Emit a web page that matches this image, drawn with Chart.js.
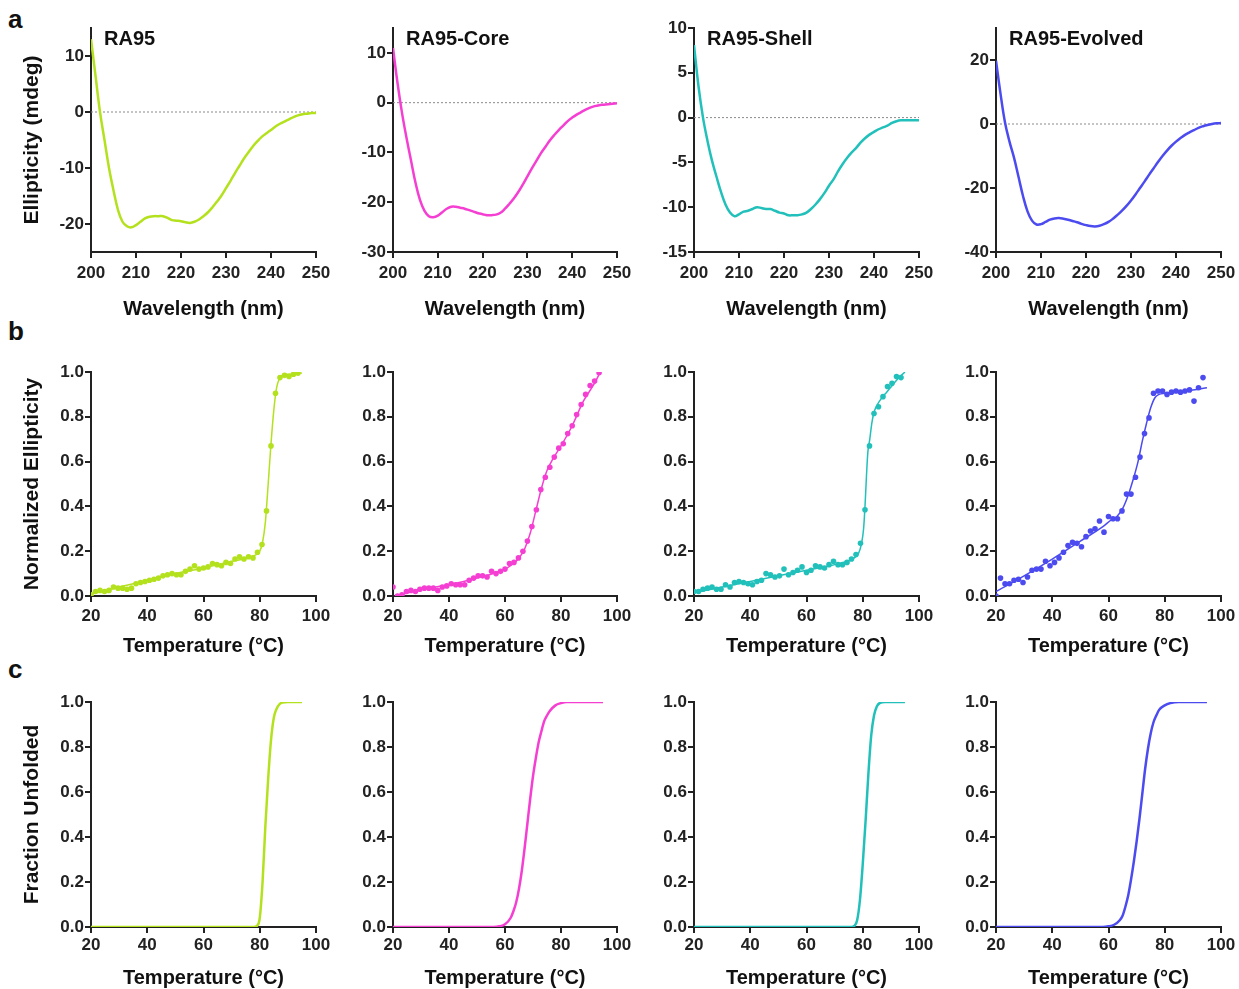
<!DOCTYPE html>
<html>
<head>
<meta charset="utf-8">
<title>RA95 CD and melting curves</title>
<script src="https://cdn.jsdelivr.net/npm/chart.js"></script>
<style>
  html, body { margin: 0; padding: 0; background: #fff; overflow: hidden; width: 1239px; height: 989px; }
  canvas { position: absolute; }
  .lbl { position: absolute; font: bold 26px "Liberation Sans", Arial, sans-serif; line-height: 26px; color: #111; }
</style>
</head>
<body>
<div class="lbl" style="left:8px;top:6px">a</div>
<div class="lbl" style="left:8px;top:318px">b</div>
<div class="lbl" style="left:8px;top:656px">c</div>
<script>
// ---- data ----
const names = ["RA95", "RA95-Core", "RA95-Shell", "RA95-Evolved"];
const colors = ["#b4e11e", "#f53fd2", "#22c0ba", "#4b4bf0"];

// row a: CD spectra (mdeg), one value per nm
const wavelengths = [200,201,202,203,204,205,206,207,208,209,210,211,212,213,214,215,216,217,218,219,220,
  221,222,223,224,225,226,227,228,229,230,231,232,233,234,235,236,237,238,239,240,
  241,242,243,244,245,246,247,248,249,250];
const cdRA95 = [13,6.5,0,-5,-10,-14,-17.5,-19.6,-20.4,-20.6,-20.2,-19.6,-19.0,-18.7,-18.6,-18.6,-18.6,-18.9,-19.3,-19.4,-19.5,
  -19.7,-19.8,-19.6,-19.2,-18.6,-17.9,-17.0,-16.0,-14.9,-13.6,-12.3,-10.9,-9.6,-8.3,-7.2,-6.1,-5.2,-4.4,-3.8,-3.2,
  -2.6,-2.1,-1.7,-1.3,-0.9,-0.6,-0.4,-0.3,-0.2,-0.2];
const cdCore = [11,4,-2,-7,-11.5,-16,-19.5,-21.7,-22.8,-23.0,-22.7,-22.0,-21.3,-20.9,-20.9,-21.1,-21.3,-21.6,-21.9,-22.2,-22.4,
  -22.6,-22.6,-22.5,-22.1,-21.3,-20.3,-19.2,-17.9,-16.4,-14.8,-13.2,-11.7,-10.2,-8.9,-7.6,-6.5,-5.5,-4.6,-3.7,-3.0,
  -2.4,-1.9,-1.4,-1.0,-0.7,-0.5,-0.4,-0.3,-0.2,-0.1];
const cdShell = [8.1,3.5,0,-2.6,-4.8,-6.6,-8.3,-9.7,-10.6,-11.0,-10.8,-10.5,-10.4,-10.2,-10.0,-10.1,-10.2,-10.2,-10.4,-10.6,-10.7,
  -10.9,-10.9,-10.9,-10.8,-10.6,-10.2,-9.7,-9.1,-8.4,-7.6,-6.9,-6.0,-5.2,-4.5,-3.9,-3.4,-2.8,-2.3,-1.9,-1.6,
  -1.3,-1.1,-0.9,-0.6,-0.4,-0.3,-0.3,-0.3,-0.3,-0.3];
const cdEvolved = [19.8,9.5,0.5,-5.5,-10.5,-16.5,-22.5,-27.3,-30.2,-31.4,-31.3,-30.6,-29.9,-29.5,-29.4,-29.6,-29.9,-30.3,-30.7,-31.2,-31.6,
  -31.9,-32.0,-31.8,-31.3,-30.6,-29.6,-28.4,-27.1,-25.6,-23.9,-22.0,-20.0,-18.0,-15.9,-13.9,-11.9,-10.0,-8.3,-6.8,-5.5,
  -4.4,-3.4,-2.6,-1.9,-1.2,-0.7,-0.3,0.0,0.2,0.3];

// row b: thermal melts (normalized ellipticity)
const tempsB = [20,21.6,23.2,24.8,26.4,28,29.6,31.2,32.8,34.4,36,37.6,39.2,40.8,42.4,44,45.6,47.2,48.8,50.4,
  52,53.6,55.2,56.8,58.4,60,61.6,63.2,64.8,66.4,68,69.6,71.2,72.8,74.4,76,77.6,79.2,80.8,82.4,
  84,85.6,87.2,88.8,90.4,92,93.6];
const meltRA95 = [0.005,0.02,0.025,0.02,0.025,0.04,0.035,0.035,0.03,0.035,0.055,0.06,0.065,0.07,0.075,0.08,0.09,0.095,0.1,0.095,
  0.095,0.11,0.12,0.135,0.12,0.125,0.13,0.145,0.14,0.135,0.15,0.145,0.165,0.175,0.165,0.175,0.17,0.195,0.23,0.38,
  0.67,0.905,0.975,0.985,0.98,0.99,0.995];
const meltCore = [0.04,0.0,0.005,0.02,0.025,0.02,0.03,0.035,0.035,0.035,0.025,0.04,0.045,0.055,0.05,0.05,0.05,0.07,0.08,0.09,
  0.09,0.085,0.11,0.1,0.11,0.12,0.145,0.15,0.17,0.2,0.245,0.31,0.385,0.475,0.53,0.575,0.62,0.66,0.68,0.725,
  0.76,0.81,0.855,0.9,0.94,0.96,0.997];
const meltShell = [0.02,0.02,0.03,0.035,0.04,0.03,0.03,0.05,0.04,0.06,0.065,0.06,0.055,0.05,0.065,0.07,0.1,0.095,0.085,0.09,
  0.12,0.095,0.105,0.115,0.13,0.105,0.115,0.135,0.13,0.125,0.14,0.155,0.14,0.14,0.15,0.165,0.185,0.235,0.385,0.67,
  0.815,0.845,0.89,0.935,0.95,0.98,0.975];
const meltEvolved = [0.0,0.08,0.055,0.055,0.07,0.075,0.06,0.085,0.115,0.12,0.12,0.155,0.135,0.15,0.17,0.195,0.225,0.24,0.235,0.22,
  0.265,0.29,0.3,0.335,0.285,0.355,0.345,0.345,0.38,0.455,0.455,0.53,0.62,0.725,0.795,0.905,0.915,0.915,0.9,0.91,
  0.915,0.91,0.915,0.92,0.87,0.93,0.975];

// row b: fitted curves
const fitTempsRA95 = [20,30,40,50,60,70,78,80,81,82,83,84,85,86,87,88,90,95];
const fitRA95 = [0.01,0.04,0.07,0.1,0.125,0.155,0.18,0.2,0.24,0.33,0.5,0.68,0.83,0.93,0.97,0.985,0.99,0.995];
const fitTempsCore = [21,30,40,50,60,63,65,67,69,71,73,75,77,80,84,88,92,94];
const fitCore = [0.0,0.03,0.05,0.08,0.12,0.145,0.17,0.21,0.28,0.38,0.48,0.56,0.61,0.67,0.76,0.87,0.95,1.0];
const fitTempsShell = [20,30,40,50,60,70,77,78.5,79.5,80.3,80.8,81.3,81.8,82.5,83.2,84,85,86.5,88.5,90.5,92.5,95];
const fitShell = [0.015,0.04,0.065,0.09,0.115,0.14,0.17,0.19,0.23,0.3,0.4,0.53,0.64,0.7,0.77,0.82,0.85,0.88,0.91,0.94,0.97,1.0];
const fitTempsEvolved = [20,30,40,50,58,61,63,65,67,69,70.5,72,73.5,75,76.5,78,80,85,90,95];
const fitEvolved = [0.02,0.09,0.165,0.245,0.31,0.34,0.355,0.39,0.45,0.53,0.6,0.69,0.77,0.84,0.885,0.9,0.905,0.913,0.92,0.93];

// row c: fraction unfolded
const fracTempsRA95 = [20,78,79,80,81,82,83,84,85,86,87,88,90,95];
const fracRA95 = [0,0,0.005,0.04,0.2,0.45,0.66,0.83,0.93,0.97,0.99,0.998,1,1];
const fracTempsCore = [20,56,58,60,62,63,64,65,66,67,68,69,70,71,72,73,74,75,76,78,80,82,95];
const fracCore = [0,0,0.003,0.012,0.04,0.07,0.11,0.17,0.25,0.35,0.46,0.57,0.67,0.75,0.82,0.87,0.915,0.94,0.96,0.985,0.995,1,1];
const fracTempsShell = [20,76,77,78,79,80,81,82,83,84,85,86,88,95];
const fracShell = [0,0,0.005,0.03,0.12,0.28,0.47,0.68,0.85,0.94,0.98,0.995,1,1];
const fracTempsEvolved = [20,58,60,62,64,65,66,67,68,69,70,71,72,73,74,75,76,77,78,80,82,85,95];
const fracEvolved = [0,0,0.003,0.01,0.03,0.05,0.09,0.14,0.21,0.29,0.38,0.48,0.59,0.7,0.79,0.86,0.91,0.94,0.965,0.985,0.995,1,1];

// axis ticks
const wlTicks = [200,210,220,230,240,250];
const tempTicks = [20,40,60,80,100];
const fracTicks = [0,0.2,0.4,0.6,0.8,1.0];
const cdTicks = [[10,0,-10,-20],[10,0,-10,-20,-30],[10,5,0,-5,-10,-15],[20,0,-20,-40]];
const cdRanges = [[-25,15],[-30,15],[-15,10],[-40,30]];

// ---- layout ----
const FONT = '"Liberation Sans", Arial, sans-serif';
const colLeft = [91, 393, 694, 996];
const colWidth = [225, 224, 225, 225];
const rows = [
  { top: 28, h: 224, xH: 73, tickPad: 5 },
  { top: 372, h: 224, xH: 66, tickPad: 4 },
  { top: 702, h: 225, xH: 67, tickPad: 2 }
];
const PAD_T = 20, PAD_R = 30;

function pts(xs, ys) { return xs.map((x, i) => ({ x: x, y: ys[i] })); }

function panelTitle(text) {
  return {
    id: 'panelTitle',
    afterDraw(chart) {
      if (!text) return;
      const { ctx, chartArea } = chart;
      ctx.save();
      ctx.font = 'bold 20px ' + FONT;
      ctx.fillStyle = '#111';
      ctx.textBaseline = 'middle';
      ctx.fillText(text, chartArea.left + 13, chartArea.top + 11);
      ctx.restore();
    }
  };
}

function makePanel(row, col, cfg) {
  const r = rows[row];
  const yW = col === 0 ? 75 : 60;
  const canvas = document.createElement('canvas');
  canvas.width = yW + colWidth[col] + PAD_R;
  canvas.height = PAD_T + r.h + r.xH;
  canvas.style.left = (colLeft[col] - yW) + 'px';
  canvas.style.top = (r.top - PAD_T) + 'px';
  document.body.appendChild(canvas);

  const axisGrid = { display: true, drawOnChartArea: false, drawTicks: true, tickLength: 6, color: '#222', lineWidth: 2 };
  const axisBorder = { display: true, color: '#222', width: 2 };

  new Chart(canvas, {
    type: 'scatter',
    data: { datasets: cfg.datasets },
    options: {
      responsive: false,
      animation: false,
      events: [],
      layout: { padding: { top: PAD_T, right: PAD_R, left: 0, bottom: 0 } },
      plugins: { legend: { display: false }, tooltip: { enabled: false } },
      scales: {
        x: {
          type: 'linear', min: cfg.xMin, max: cfg.xMax,
          afterFit: s => { s.height = r.xH; },
          afterBuildTicks: s => { s.ticks = cfg.xTicks.map(v => ({ value: v })); },
          grid: axisGrid, border: axisBorder,
          ticks: { color: '#222', font: { family: FONT, size: 17, weight: 'bold' }, padding: r.tickPad, autoSkip: false, maxRotation: 0 },
          title: { display: true, text: cfg.xTitle, color: '#111', font: { family: FONT, size: 20, weight: 'bold' } }
        },
        y: {
          type: 'linear', min: cfg.yMin, max: cfg.yMax,
          afterFit: s => { s.width = yW; },
          afterBuildTicks: s => { s.ticks = cfg.yTicks.map(v => ({ value: v })); },
          grid: axisGrid, border: axisBorder,
          ticks: { color: '#222', font: { family: FONT, size: 17, weight: 'bold' }, padding: 1, autoSkip: false,
                   callback: cfg.yFmt || (v => String(v)) },
          title: { display: !!cfg.yTitle, text: cfg.yTitle || '', color: '#111', font: { family: FONT, size: 21, weight: 'bold' } }
        }
      }
    },
    plugins: [panelTitle(cfg.title)]
  });
}

// row a
const cdSeries = [cdRA95, cdCore, cdShell, cdEvolved];
cdSeries.forEach((cd, i) => {
  makePanel(0, i, {
    title: names[i],
    xMin: wavelengths[0], xMax: wavelengths[wavelengths.length - 1], xTicks: wlTicks,
    yMin: cdRanges[i][0], yMax: cdRanges[i][1], yTicks: cdTicks[i],
    xTitle: 'Wavelength (nm)', yTitle: i === 0 ? 'Ellipticity (mdeg)' : null,
    datasets: [
      { data: pts(wavelengths, cd), showLine: true, borderColor: colors[i], borderWidth: 2.5, pointRadius: 0, tension: 0.4 },
      { data: pts([wavelengths[0], wavelengths[wavelengths.length - 1]], [0, 0]), showLine: true,
        borderColor: '#8a8a8a', borderWidth: 1, borderDash: [2, 2], pointRadius: 0 }
    ]
  });
});

// row b
const meltSeries = [meltRA95, meltCore, meltShell, meltEvolved];
const fitSeries = [[fitTempsRA95, fitRA95], [fitTempsCore, fitCore], [fitTempsShell, fitShell], [fitTempsEvolved, fitEvolved]];
const frac1 = v => v.toFixed(1);
meltSeries.forEach((m, i) => {
  makePanel(1, i, {
    xMin: 20, xMax: 100, xTicks: tempTicks,
    yMin: 0, yMax: 1, yTicks: fracTicks, yFmt: frac1,
    xTitle: 'Temperature (°C)', yTitle: i === 0 ? 'Normalized Ellipticity' : null,
    datasets: [
      { data: pts(tempsB, m), showLine: false, pointRadius: 2.8, pointBackgroundColor: colors[i], pointBorderWidth: 0 },
      { data: pts(fitSeries[i][0], fitSeries[i][1]), showLine: true, borderColor: colors[i], borderWidth: 1.5,
        pointRadius: 0, cubicInterpolationMode: 'monotone' }
    ]
  });
});

// row c
const fracSeries = [[fracTempsRA95, fracRA95], [fracTempsCore, fracCore], [fracTempsShell, fracShell], [fracTempsEvolved, fracEvolved]];
fracSeries.forEach((f, i) => {
  makePanel(2, i, {
    xMin: 20, xMax: 100, xTicks: tempTicks,
    yMin: 0, yMax: 1, yTicks: fracTicks, yFmt: frac1,
    xTitle: 'Temperature (°C)', yTitle: i === 0 ? 'Fraction Unfolded' : null,
    datasets: [
      { data: pts(f[0], f[1]), showLine: true, borderColor: colors[i], borderWidth: 2.5, pointRadius: 0,
        cubicInterpolationMode: 'monotone' }
    ]
  });
});
</script>
</body>
</html>
